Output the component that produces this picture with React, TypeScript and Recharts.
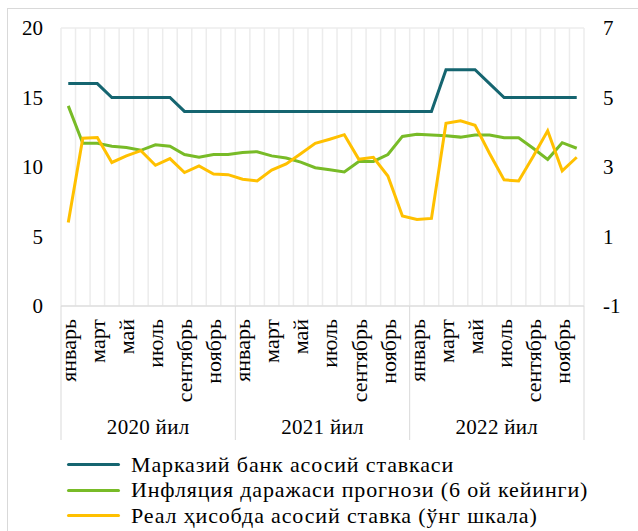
import React from 'react';
import { LineChart, Line, XAxis, YAxis, CartesianGrid, Legend } from 'recharts';

const years = ['2020 йил', '2021 йил', '2022 йил'];
const months = ['январь', 'февраль', 'март', 'апрель', 'май', 'июнь', 'июль', 'август', 'сентябрь', 'октябрь', 'ноябрь', 'декабрь'];

// Марказий банк асосий ставкаси (left axis)
const keyRate = [
  16, 16, 16, 15, 15, 15, 15, 15, 14, 14, 14, 14,
  14, 14, 14, 14, 14, 14, 14, 14, 14, 14, 14, 14,
  14, 14, 17, 17, 17, 16, 15, 15, 15, 15, 15, 15,
];
// Инфляция даражаси прогнози (left axis)
const inflForecast = [
  14.4, 11.7, 11.7, 11.5, 11.4, 11.2, 11.6, 11.5, 10.9, 10.7, 10.9, 10.9,
  11.05, 11.1, 10.8, 10.65, 10.35, 9.95, 9.8, 9.65, 10.4, 10.4, 10.9, 12.2,
  12.35, 12.3, 12.25, 12.15, 12.3, 12.3, 12.1, 12.1, 11.35, 10.55, 11.75, 11.35,
];
// Реал ҳисобда асосий ставка (right axis)
const realRate = [
  1.4, 3.83, 3.85, 3.13, 3.32, 3.47, 3.05, 3.24, 2.84, 3.03, 2.8, 2.78,
  2.65, 2.6, 2.91, 3.09, 3.38, 3.68, 3.8, 3.93, 3.22, 3.28, 2.74, 1.59,
  1.49, 1.52, 4.26, 4.33, 4.2, 3.39, 2.63, 2.6, 3.3, 4.04, 2.89, 3.28,
];

const leftTicks = [0, 5, 10, 15, 20];
const rightTicks = [-1, 1, 3, 5, 7];

const seriesNames = [
  'Марказий банк асосий ставкаси',
  'Инфляция даражаси прогнози (6 ой кейинги)',
  'Реал ҳисобда асосий ставка (ўнг шкала)',
];
const colors = ['#156570', '#78bb27', '#ffc000'];

const data = keyRate.map((v, i) => ({
  key: `${i}`,
  month: months[i % 12],
  monthIdx: i % 12,
  year: years[Math.floor(i / 12)],
  rate: v,
  infl: inflForecast[i],
  real: realRate[i],
}));

const FONT = 'Liberation Serif, DejaVu Serif, serif';
const W = 638;
const H = 531;
const AXIS_H = 134;

const MonthTick = (props: any) => {
  const { x, y, payload } = props;
  const row = data[payload.index];
  if (!row) return null;
  const half = payload.offset || 7.26;
  const isLast = payload.index === data.length - 1;
  return (
    <g>
      {row.monthIdx === 0 && (
        <line x1={x - half} y1={y} x2={x - half} y2={y + AXIS_H} stroke="#d9d9d9" />
      )}
      {isLast && <line x1={x + half} y1={y} x2={x + half} y2={y + AXIS_H} stroke="#d9d9d9" />}
      {row.monthIdx % 2 === 0 && (
        <text
          x={x}
          y={y + 13}
          transform={`rotate(-90, ${x}, ${y + 13})`}
          textAnchor="end"
          dy="0.35em"
          fontSize={22}
          fontFamily={FONT}
          fill="#000"
        >
          {row.month}
        </text>
      )}
      {row.monthIdx === 6 && (
        <text x={x - half} y={y + 128} textAnchor="middle" fontSize={21} fontFamily={FONT} fill="#000" letterSpacing={0.3}>
          {row.year}
        </text>
      )}
    </g>
  );
};

const renderLegend = () => (
  <div style={{ fontFamily: FONT, fontSize: 22, letterSpacing: 0.85, color: '#000' }}>
    {seriesNames.map((name, i) => (
      <div key={name} style={{ display: 'flex', alignItems: 'center', height: 25.5, whiteSpace: 'nowrap' }}>
        <span style={{ display: 'inline-block', width: 53, height: 3, background: colors[i], borderRadius: 2, marginRight: 11 }} />
        <span>{name}</span>
      </div>
    ))}
  </div>
);

const App: React.FC = () => {
  return (
    <div style={{ position: 'absolute', left: 0, top: 0, width: W, height: H, overflow: 'hidden', background: '#fff', fontFamily: FONT }}>
      <div style={{ position: 'absolute', left: 7, top: 8, width: W, height: H, borderLeft: '1px solid #d9d9d9', borderTop: '1px solid #d9d9d9' }} />
      <div style={{ position: 'absolute', left: 0, top: 0 }}>
        <LineChart width={W} height={H} data={data} margin={{ top: 28, right: 0, left: 0, bottom: 91 }}>
          <CartesianGrid
            stroke="#ececec"
            strokeWidth={1.5}
            verticalCoordinatesGenerator={({ offset }: any) =>
              data.map((_, i) => offset.left + (i * offset.width) / data.length).concat(offset.left + offset.width)
            }
          />
          <XAxis
            dataKey="key"
            scale="band"
            interval={0}
            height={AXIS_H}
            tickLine={false}
            tickSize={0}
            tickMargin={0}
            axisLine={{ stroke: '#d9d9d9' }}
            tick={<MonthTick />}
          />
          <YAxis
            yAxisId="left"
            width={61}
            domain={[0, 20]}
            ticks={leftTicks}
            axisLine={false}
            tickLine={false}
            tickSize={0}
            tickMargin={18}
            tick={{ fill: '#000', fontSize: 21, fontFamily: FONT }}
          />
          <YAxis
            yAxisId="right"
            orientation="right"
            width={54}
            domain={[-1, 7]}
            ticks={rightTicks}
            axisLine={false}
            tickLine={false}
            tickSize={0}
            tickMargin={19}
            tick={{ fill: '#000', fontSize: 21, fontFamily: FONT, textAnchor: 'start' }}
          />
          <Line yAxisId="left" dataKey="rate" name={seriesNames[0]} stroke={colors[0]} strokeWidth={3} dot={false} type="linear" isAnimationActive={false} />
          <Line yAxisId="left" dataKey="infl" name={seriesNames[1]} stroke={colors[1]} strokeWidth={3} dot={false} type="linear" isAnimationActive={false} />
          <Line yAxisId="right" dataKey="real" name={seriesNames[2]} stroke={colors[2]} strokeWidth={3} dot={false} type="linear" isAnimationActive={false} />
          <Legend
            layout="vertical"
            align="center"
            verticalAlign="middle"
            content={renderLegend}
            wrapperStyle={{ left: 67, top: 452, width: 560 }}
          />
        </LineChart>
      </div>
    </div>
  );
};

export default App;
